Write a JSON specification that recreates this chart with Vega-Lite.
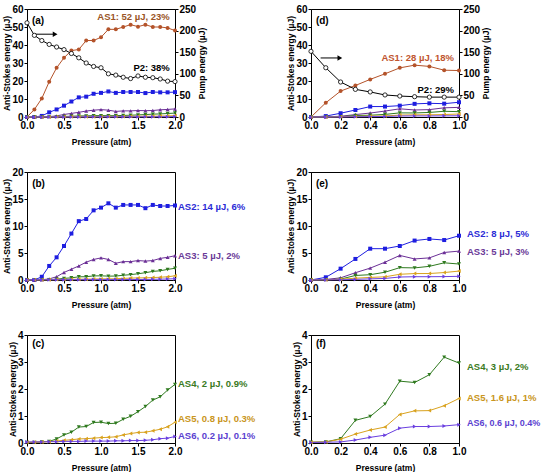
{
"$schema":"https://vega.github.io/schema/vega-lite/v6.json",
"padding":{"left":2,"top":3,"right":0,"bottom":0},
"config":{
"view":{"stroke":"black","strokeWidth":1},
"axis":{"labelFont":"Liberation Sans","labelFontWeight":"bold","labelFontSize":10,"labelColor":"black","titleFont":"Liberation Sans","titleFontWeight":"bold","titleFontSize":8.5,"titleColor":"black","domainColor":"black","tickColor":"black","tickSize":3,"grid":false,"labelPadding":1,"labelFlush":false,"labelOverlap":false,"titlePadding":4},
"axisX":{"titlePadding":7,"labelPadding":0},
"axisLeft":{"titlePadding":0,"labelPadding":1},
"axisRight":{"titlePadding":2,"labelPadding":1,"titleAngle":270,"titleBaseline":"top"},
"text":{"font":"Liberation Sans","fontWeight":"bold","fontSize":9.5}
},
"datasets":{
"L":[
{"s":"AS1","p":0,"e":0},{"s":"AS1","p":0.1,"e":4.2},{"s":"AS1","p":0.2,"e":10.3},{"s":"AS1","p":0.3,"e":19.6},{"s":"AS1","p":0.4,"e":27.3},{"s":"AS1","p":0.5,"e":32.9},{"s":"AS1","p":0.6,"e":36.9},{"s":"AS1","p":0.7,"e":37.5},{"s":"AS1","p":0.8,"e":42.5},{"s":"AS1","p":0.9,"e":42.5},{"s":"AS1","p":1,"e":44.3},{"s":"AS1","p":1.1,"e":48.7},{"s":"AS1","p":1.2,"e":48.7},{"s":"AS1","p":1.3,"e":50},{"s":"AS1","p":1.4,"e":51.3},{"s":"AS1","p":1.5,"e":50.2},{"s":"AS1","p":1.6,"e":51.3},{"s":"AS1","p":1.7,"e":50},{"s":"AS1","p":1.8,"e":50},{"s":"AS1","p":1.9,"e":49.5},{"s":"AS1","p":2,"e":48},
{"s":"AS2","p":0,"e":0},{"s":"AS2","p":0.1,"e":0},{"s":"AS2","p":0.2,"e":0.6},{"s":"AS2","p":0.3,"e":2.6},{"s":"AS2","p":0.4,"e":4.2},{"s":"AS2","p":0.5,"e":6.3},{"s":"AS2","p":0.6,"e":8.6},{"s":"AS2","p":0.7,"e":10.9},{"s":"AS2","p":0.8,"e":11.3},{"s":"AS2","p":0.9,"e":12.9},{"s":"AS2","p":1,"e":13.4},{"s":"AS2","p":1.1,"e":14.2},{"s":"AS2","p":1.2,"e":13.4},{"s":"AS2","p":1.3,"e":13.9},{"s":"AS2","p":1.4,"e":13.9},{"s":"AS2","p":1.5,"e":13.9},{"s":"AS2","p":1.6,"e":13.3},{"s":"AS2","p":1.7,"e":13.9},{"s":"AS2","p":1.8,"e":13.7},{"s":"AS2","p":1.9,"e":13.7},{"s":"AS2","p":2,"e":13.8},
{"s":"AS3","p":0,"e":0},{"s":"AS3","p":0.1,"e":0},{"s":"AS3","p":0.2,"e":0.05},{"s":"AS3","p":0.3,"e":0.2},{"s":"AS3","p":0.4,"e":0.6},{"s":"AS3","p":0.5,"e":1.4},{"s":"AS3","p":0.6,"e":2.0},{"s":"AS3","p":0.7,"e":2.6},{"s":"AS3","p":0.8,"e":3.3},{"s":"AS3","p":0.9,"e":3.8},{"s":"AS3","p":1,"e":4.1},{"s":"AS3","p":1.1,"e":3.8},{"s":"AS3","p":1.2,"e":3.1},{"s":"AS3","p":1.3,"e":3.4},{"s":"AS3","p":1.4,"e":3.4},{"s":"AS3","p":1.5,"e":3.6},{"s":"AS3","p":1.6,"e":3.5},{"s":"AS3","p":1.7,"e":3.6},{"s":"AS3","p":1.8,"e":4.0},{"s":"AS3","p":1.9,"e":4.2},{"s":"AS3","p":2,"e":4.5},
{"s":"AS4","p":0,"e":0.02},{"s":"AS4","p":0.1,"e":0.02},{"s":"AS4","p":0.2,"e":0.04},{"s":"AS4","p":0.3,"e":0.06},{"s":"AS4","p":0.4,"e":0.15},{"s":"AS4","p":0.5,"e":0.3},{"s":"AS4","p":0.6,"e":0.4},{"s":"AS4","p":0.7,"e":0.59},{"s":"AS4","p":0.8,"e":0.61},{"s":"AS4","p":0.9,"e":0.76},{"s":"AS4","p":1,"e":0.77},{"s":"AS4","p":1.1,"e":0.72},{"s":"AS4","p":1.2,"e":0.73},{"s":"AS4","p":1.3,"e":0.88},{"s":"AS4","p":1.4,"e":0.99},{"s":"AS4","p":1.5,"e":1.16},{"s":"AS4","p":1.6,"e":1.35},{"s":"AS4","p":1.7,"e":1.59},{"s":"AS4","p":1.8,"e":1.71},{"s":"AS4","p":1.9,"e":1.96},{"s":"AS4","p":2,"e":2.17},
{"s":"AS5","p":0,"e":0.03},{"s":"AS5","p":0.1,"e":0.03},{"s":"AS5","p":0.2,"e":0.04},{"s":"AS5","p":0.3,"e":0.05},{"s":"AS5","p":0.4,"e":0.07},{"s":"AS5","p":0.5,"e":0.1},{"s":"AS5","p":0.6,"e":0.12},{"s":"AS5","p":0.7,"e":0.15},{"s":"AS5","p":0.8,"e":0.16},{"s":"AS5","p":0.9,"e":0.18},{"s":"AS5","p":1,"e":0.2},{"s":"AS5","p":1.1,"e":0.21},{"s":"AS5","p":1.2,"e":0.23},{"s":"AS5","p":1.3,"e":0.3},{"s":"AS5","p":1.4,"e":0.35},{"s":"AS5","p":1.5,"e":0.39},{"s":"AS5","p":1.6,"e":0.4},{"s":"AS5","p":1.7,"e":0.45},{"s":"AS5","p":1.8,"e":0.51},{"s":"AS5","p":1.9,"e":0.6},{"s":"AS5","p":2,"e":0.77},
{"s":"AS6","p":0,"e":0.04},{"s":"AS6","p":0.1,"e":0.04},{"s":"AS6","p":0.2,"e":0.04},{"s":"AS6","p":0.3,"e":0.05},{"s":"AS6","p":0.4,"e":0.05},{"s":"AS6","p":0.5,"e":0.06},{"s":"AS6","p":0.6,"e":0.06},{"s":"AS6","p":0.7,"e":0.06},{"s":"AS6","p":0.8,"e":0.07},{"s":"AS6","p":0.9,"e":0.07},{"s":"AS6","p":1,"e":0.07},{"s":"AS6","p":1.1,"e":0.07},{"s":"AS6","p":1.2,"e":0.08},{"s":"AS6","p":1.3,"e":0.08},{"s":"AS6","p":1.4,"e":0.09},{"s":"AS6","p":1.5,"e":0.09},{"s":"AS6","p":1.6,"e":0.1},{"s":"AS6","p":1.7,"e":0.12},{"s":"AS6","p":1.8,"e":0.16},{"s":"AS6","p":1.9,"e":0.18},{"s":"AS6","p":2,"e":0.24},
{"s":"P2","p":0,"e":218},{"s":"P2","p":0.1,"e":189},{"s":"P2","p":0.2,"e":177},{"s":"P2","p":0.3,"e":168},{"s":"P2","p":0.4,"e":162},{"s":"P2","p":0.5,"e":156},{"s":"P2","p":0.6,"e":147},{"s":"P2","p":0.7,"e":137},{"s":"P2","p":0.8,"e":125},{"s":"P2","p":0.9,"e":117},{"s":"P2","p":1,"e":114},{"s":"P2","p":1.1,"e":100},{"s":"P2","p":1.2,"e":97},{"s":"P2","p":1.3,"e":92},{"s":"P2","p":1.4,"e":89},{"s":"P2","p":1.5,"e":95},{"s":"P2","p":1.6,"e":92},{"s":"P2","p":1.7,"e":91},{"s":"P2","p":1.8,"e":88},{"s":"P2","p":1.9,"e":83},{"s":"P2","p":2,"e":82}
],
"R":[
{"s":"AS1","p":0,"e":0},{"s":"AS1","p":0.1,"e":7.9},{"s":"AS1","p":0.2,"e":14.4},{"s":"AS1","p":0.3,"e":17.5},{"s":"AS1","p":0.4,"e":20.9},{"s":"AS1","p":0.5,"e":24},{"s":"AS1","p":0.6,"e":27.3},{"s":"AS1","p":0.7,"e":28.8},{"s":"AS1","p":0.8,"e":28.1},{"s":"AS1","p":0.9,"e":26},{"s":"AS1","p":1,"e":25.8},
{"s":"AS2","p":0,"e":0},{"s":"AS2","p":0.1,"e":0.5},{"s":"AS2","p":0.2,"e":2.1},{"s":"AS2","p":0.3,"e":3.9},{"s":"AS2","p":0.4,"e":5.8},{"s":"AS2","p":0.5,"e":5.8},{"s":"AS2","p":0.6,"e":6.3},{"s":"AS2","p":0.7,"e":7.3},{"s":"AS2","p":0.8,"e":7.6},{"s":"AS2","p":0.9,"e":7.4},{"s":"AS2","p":1,"e":8.2},
{"s":"AS3","p":0,"e":0},{"s":"AS3","p":0.1,"e":0.1},{"s":"AS3","p":0.2,"e":0.4},{"s":"AS3","p":0.3,"e":1.35},{"s":"AS3","p":0.4,"e":2.2},{"s":"AS3","p":0.5,"e":3.3},{"s":"AS3","p":0.6,"e":4.55},{"s":"AS3","p":0.7,"e":3.9},{"s":"AS3","p":0.8,"e":4.1},{"s":"AS3","p":0.9,"e":5.1},{"s":"AS3","p":1,"e":5.35},
{"s":"AS4","p":0,"e":0.03},{"s":"AS4","p":0.1,"e":0.04},{"s":"AS4","p":0.2,"e":0.16},{"s":"AS4","p":0.3,"e":0.84},{"s":"AS4","p":0.4,"e":0.98},{"s":"AS4","p":0.5,"e":1.44},{"s":"AS4","p":0.6,"e":2.29},{"s":"AS4","p":0.7,"e":2.24},{"s":"AS4","p":0.8,"e":2.53},{"s":"AS4","p":0.9,"e":3.18},{"s":"AS4","p":1,"e":2.96},
{"s":"AS5","p":0,"e":0.03},{"s":"AS5","p":0.1,"e":0.04},{"s":"AS5","p":0.2,"e":0.14},{"s":"AS5","p":0.3,"e":0.33},{"s":"AS5","p":0.4,"e":0.48},{"s":"AS5","p":0.5,"e":0.59},{"s":"AS5","p":0.6,"e":1.06},{"s":"AS5","p":0.7,"e":1.19},{"s":"AS5","p":0.8,"e":1.2},{"s":"AS5","p":0.9,"e":1.38},{"s":"AS5","p":1,"e":1.65},
{"s":"AS6","p":0,"e":0.02},{"s":"AS6","p":0.1,"e":0.03},{"s":"AS6","p":0.2,"e":0.04},{"s":"AS6","p":0.3,"e":0.11},{"s":"AS6","p":0.4,"e":0.21},{"s":"AS6","p":0.5,"e":0.29},{"s":"AS6","p":0.6,"e":0.55},{"s":"AS6","p":0.7,"e":0.61},{"s":"AS6","p":0.8,"e":0.61},{"s":"AS6","p":0.9,"e":0.63},{"s":"AS6","p":1,"e":0.68},
{"s":"P2","p":0,"e":152},{"s":"P2","p":0.1,"e":114},{"s":"P2","p":0.2,"e":81},{"s":"P2","p":0.3,"e":64},{"s":"P2","p":0.4,"e":58},{"s":"P2","p":0.5,"e":51},{"s":"P2","p":0.6,"e":48.5},{"s":"P2","p":0.7,"e":47},{"s":"P2","p":0.8,"e":46},{"s":"P2","p":0.9,"e":46},{"s":"P2","p":1,"e":46}
]
},
"columns":2,
"spacing":{"row":55,"column":136},
"bounds":"flush",
"concat":[
{
"width":148,"height":108,
"layer":[
{"layer":[
{"data":{"name":"L"},
"transform":[{"filter":{"field":"s","oneOf":["AS1","AS2","AS3","AS4","AS5","AS6"]}}],
"encoding":{
"x":{"field":"p","type":"quantitative","scale":{"domain":[0,2]},"axis":{"values":[0,0.5,1,1.5,2],"format":".1f","title":"Pressure (atm)"}},
"y":{"field":"e","type":"quantitative","scale":{"domain":[0,60]},"axis":{"values":[0,10,20,30,40,50,60],"title":"Anti-Stokes energy (µJ)"}},
"color":{"field":"s","type":"nominal","scale":{"domain":["AS1","AS2","AS3","AS4","AS5","AS6"],"range":["#b4532a","#1e1ee0","#6b2f96","#2f7a1f","#d9a21e","#6a3fe0"]},"legend":null}},
"layer":[
{"mark":{"type":"line","strokeWidth":1}},
{"mark":{"type":"point","filled":true,"size":16,"opacity":1},"encoding":{"shape":{"field":"s","type":"nominal","scale":{"domain":["AS1","AS2","AS3","AS4","AS5","AS6"],"range":["circle","square","triangle-up","triangle-down","triangle-left","triangle-right"]},"legend":null}}}
]},
{"data":{"values":[{}]},"mark":{"type":"rule","color":"black","strokeWidth":1},"encoding":{"x":{"datum":0.1,"axis":{"values":[0,0.5,1,1.5,2],"format":".1f","title":"Pressure (atm)"}},"x2":{"datum":0.37},"y":{"datum":46,"axis":{"values":[0,10,20,30,40,50,60],"title":"Anti-Stokes energy (µJ)"}}}},
{"data":{"values":[{}]},"mark":{"type":"point","shape":"triangle-right","filled":true,"color":"black","size":30,"opacity":1},"encoding":{"x":{"datum":0.38,"axis":{"values":[0,0.5,1,1.5,2],"format":".1f","title":"Pressure (atm)"}},"y":{"datum":46,"axis":{"values":[0,10,20,30,40,50,60],"title":"Anti-Stokes energy (µJ)"}}}},
{"data":{"values":[{}]},"mark":{"type":"text","text":"(a)","align":"left","fontSize":10},"encoding":{"x":{"datum":0.067,"axis":{"values":[0,0.5,1,1.5,2],"format":".1f","title":"Pressure (atm)"}},"y":{"datum":53.3,"axis":{"values":[0,10,20,30,40,50,60],"title":"Anti-Stokes energy (µJ)"}}}},
{"data":{"values":[{}]},"mark":{"type":"text","text":"AS1: 52 µJ, 23%","align":"right","color":"#9a5526"},"encoding":{"x":{"datum":1.93,"axis":{"values":[0,0.5,1,1.5,2],"format":".1f","title":"Pressure (atm)"}},"y":{"datum":55.5,"axis":{"values":[0,10,20,30,40,50,60],"title":"Anti-Stokes energy (µJ)"}}}},
{"data":{"values":[{}]},"mark":{"type":"text","text":"P2: 38%","align":"right","color":"black"},"encoding":{"x":{"datum":1.93,"axis":{"values":[0,0.5,1,1.5,2],"format":".1f","title":"Pressure (atm)"}},"y":{"datum":27.4,"axis":{"values":[0,10,20,30,40,50,60],"title":"Anti-Stokes energy (µJ)"}}}}
]},
{"data":{"name":"L"},"transform":[{"filter":{"field":"s","equal":"P2"}}],
"encoding":{
"x":{"field":"p","type":"quantitative","scale":{"domain":[0,2]},"axis":{"values":[0,0.5,1,1.5,2],"format":".1f","title":"Pressure (atm)"}},
"y":{"field":"e","type":"quantitative","scale":{"domain":[0,250]},"axis":{"orient":"right","values":[0,50,100,150,200,250],"title":"Pump energy (µJ)"}}},
"layer":[
{"mark":{"type":"line","color":"black","strokeWidth":1}},
{"mark":{"type":"point","shape":"circle","filled":true,"fill":"white","stroke":"black","strokeWidth":0.8,"size":18,"opacity":1}}
]}
],
"resolve":{"scale":{"y":"independent"}}
},
{
"width":148,"height":108,
"layer":[
{"layer":[
{"data":{"name":"R"},
"transform":[{"filter":{"field":"s","oneOf":["AS1","AS2","AS3","AS4","AS5","AS6"]}}],
"encoding":{
"x":{"field":"p","type":"quantitative","scale":{"domain":[0,1]},"axis":{"values":[0,0.2,0.4,0.6,0.8,1],"format":".1f","title":"Pressure (atm)"}},
"y":{"field":"e","type":"quantitative","scale":{"domain":[0,60]},"axis":{"values":[0,10,20,30,40,50,60],"title":"Anti-Stokes energy (µJ)"}},
"color":{"field":"s","type":"nominal","scale":{"domain":["AS1","AS2","AS3","AS4","AS5","AS6"],"range":["#b4532a","#1e1ee0","#6b2f96","#2f7a1f","#d9a21e","#6a3fe0"]},"legend":null}},
"layer":[
{"mark":{"type":"line","strokeWidth":1}},
{"mark":{"type":"point","filled":true,"size":16,"opacity":1},"encoding":{"shape":{"field":"s","type":"nominal","scale":{"domain":["AS1","AS2","AS3","AS4","AS5","AS6"],"range":["circle","square","triangle-up","triangle-down","triangle-left","triangle-right"]},"legend":null}}}
]},
{"data":{"values":[{}]},"mark":{"type":"rule","color":"black","strokeWidth":1},"encoding":{"x":{"datum":0.065,"axis":{"values":[0,0.2,0.4,0.6,0.8,1],"format":".1f","title":"Pressure (atm)"}},"x2":{"datum":0.19},"y":{"datum":32.8,"axis":{"values":[0,10,20,30,40,50,60],"title":"Anti-Stokes energy (µJ)"}}}},
{"data":{"values":[{}]},"mark":{"type":"point","shape":"triangle-right","filled":true,"color":"black","size":30,"opacity":1},"encoding":{"x":{"datum":0.195,"axis":{"values":[0,0.2,0.4,0.6,0.8,1],"format":".1f","title":"Pressure (atm)"}},"y":{"datum":32.8,"axis":{"values":[0,10,20,30,40,50,60],"title":"Anti-Stokes energy (µJ)"}}}},
{"data":{"values":[{}]},"mark":{"type":"text","text":"(d)","align":"left","fontSize":10},"encoding":{"x":{"datum":0.033,"axis":{"values":[0,0.2,0.4,0.6,0.8,1],"format":".1f","title":"Pressure (atm)"}},"y":{"datum":53.3,"axis":{"values":[0,10,20,30,40,50,60],"title":"Anti-Stokes energy (µJ)"}}}},
{"data":{"values":[{}]},"mark":{"type":"text","text":"AS1: 28 µJ, 18%","align":"right","color":"#c0552e"},"encoding":{"x":{"datum":0.966,"axis":{"values":[0,0.2,0.4,0.6,0.8,1],"format":".1f","title":"Pressure (atm)"}},"y":{"datum":32.9,"axis":{"values":[0,10,20,30,40,50,60],"title":"Anti-Stokes energy (µJ)"}}}},
{"data":{"values":[{}]},"mark":{"type":"text","text":"P2: 29%","align":"right","color":"black"},"encoding":{"x":{"datum":0.966,"axis":{"values":[0,0.2,0.4,0.6,0.8,1],"format":".1f","title":"Pressure (atm)"}},"y":{"datum":14.8,"axis":{"values":[0,10,20,30,40,50,60],"title":"Anti-Stokes energy (µJ)"}}}}
]},
{"data":{"name":"R"},"transform":[{"filter":{"field":"s","equal":"P2"}}],
"encoding":{
"x":{"field":"p","type":"quantitative","scale":{"domain":[0,1]},"axis":{"values":[0,0.2,0.4,0.6,0.8,1],"format":".1f","title":"Pressure (atm)"}},
"y":{"field":"e","type":"quantitative","scale":{"domain":[0,250]},"axis":{"orient":"right","values":[0,50,100,150,200,250],"title":"Pump energy (µJ)"}}},
"layer":[
{"mark":{"type":"line","color":"black","strokeWidth":1}},
{"mark":{"type":"point","shape":"circle","filled":true,"fill":"white","stroke":"black","strokeWidth":0.8,"size":18,"opacity":1}}
]}
],
"resolve":{"scale":{"y":"independent"}}
},
{
"width":148,"height":108,
"layer":[
{"data":{"name":"L"},
"transform":[{"filter":{"field":"s","oneOf":["AS2","AS3","AS4","AS5","AS6"]}}],
"encoding":{
"x":{"field":"p","type":"quantitative","scale":{"domain":[0,2]},"axis":{"values":[0,0.5,1,1.5,2],"format":".1f","title":"Pressure (atm)"}},
"y":{"field":"e","type":"quantitative","scale":{"domain":[0,20]},"axis":{"values":[0,5,10,15,20],"title":"Anti-Stokes energy (µJ)"}},
"color":{"field":"s","type":"nominal","scale":{"domain":["AS1","AS2","AS3","AS4","AS5","AS6"],"range":["#b4532a","#1e1ee0","#6b2f96","#2f7a1f","#d9a21e","#6a3fe0"]},"legend":null}},
"layer":[
{"mark":{"type":"line","strokeWidth":1}},
{"mark":{"type":"point","filled":true,"size":16,"opacity":1},"encoding":{"shape":{"field":"s","type":"nominal","scale":{"domain":["AS1","AS2","AS3","AS4","AS5","AS6"],"range":["circle","square","triangle-up","triangle-down","triangle-left","triangle-right"]},"legend":null}}}
]},
{"data":{"values":[{}]},"mark":{"type":"text","text":"(b)","align":"left","fontSize":10},"encoding":{"x":{"datum":0.07,"axis":{"values":[0,0.5,1,1.5,2],"format":".1f","title":"Pressure (atm)"}},"y":{"datum":17.8,"axis":{"values":[0,5,10,15,20],"title":"Anti-Stokes energy (µJ)"}}}},
{"data":{"values":[{}]},"mark":{"type":"text","text":"AS2: 14 µJ, 6%","align":"left","dx":3,"color":"#2b2bd6"},"encoding":{"x":{"datum":2,"axis":{"values":[0,0.5,1,1.5,2],"format":".1f","title":"Pressure (atm)"}},"y":{"datum":13.6,"axis":{"values":[0,5,10,15,20],"title":"Anti-Stokes energy (µJ)"}}}},
{"data":{"values":[{}]},"mark":{"type":"text","text":"AS3: 5 µJ, 2%","align":"left","dx":3,"color":"#6a3a98"},"encoding":{"x":{"datum":2,"axis":{"values":[0,0.5,1,1.5,2],"format":".1f","title":"Pressure (atm)"}},"y":{"datum":4.4,"axis":{"values":[0,5,10,15,20],"title":"Anti-Stokes energy (µJ)"}}}}
]
},
{
"width":148,"height":108,
"layer":[
{"data":{"name":"R"},
"transform":[{"filter":{"field":"s","oneOf":["AS2","AS3","AS4","AS5","AS6"]}}],
"encoding":{
"x":{"field":"p","type":"quantitative","scale":{"domain":[0,1]},"axis":{"values":[0,0.2,0.4,0.6,0.8,1],"format":".1f","title":"Pressure (atm)"}},
"y":{"field":"e","type":"quantitative","scale":{"domain":[0,20]},"axis":{"values":[0,5,10,15,20],"title":"Anti-Stokes energy (µJ)"}},
"color":{"field":"s","type":"nominal","scale":{"domain":["AS1","AS2","AS3","AS4","AS5","AS6"],"range":["#b4532a","#1e1ee0","#6b2f96","#2f7a1f","#d9a21e","#6a3fe0"]},"legend":null}},
"layer":[
{"mark":{"type":"line","strokeWidth":1}},
{"mark":{"type":"point","filled":true,"size":16,"opacity":1},"encoding":{"shape":{"field":"s","type":"nominal","scale":{"domain":["AS1","AS2","AS3","AS4","AS5","AS6"],"range":["circle","square","triangle-up","triangle-down","triangle-left","triangle-right"]},"legend":null}}}
]},
{"data":{"values":[{}]},"mark":{"type":"text","text":"(e)","align":"left","fontSize":10},"encoding":{"x":{"datum":0.033,"axis":{"values":[0,0.2,0.4,0.6,0.8,1],"format":".1f","title":"Pressure (atm)"}},"y":{"datum":17.8,"axis":{"values":[0,5,10,15,20],"title":"Anti-Stokes energy (µJ)"}}}},
{"data":{"values":[{}]},"mark":{"type":"text","text":"AS2: 8 µJ, 5%","align":"left","dx":8,"color":"#2b2bd6"},"encoding":{"x":{"datum":1,"axis":{"values":[0,0.2,0.4,0.6,0.8,1],"format":".1f","title":"Pressure (atm)"}},"y":{"datum":8.6,"axis":{"values":[0,5,10,15,20],"title":"Anti-Stokes energy (µJ)"}}}},
{"data":{"values":[{}]},"mark":{"type":"text","text":"AS3: 5 µJ, 3%","align":"left","dx":8,"color":"#6a3a98"},"encoding":{"x":{"datum":1,"axis":{"values":[0,0.2,0.4,0.6,0.8,1],"format":".1f","title":"Pressure (atm)"}},"y":{"datum":5.1,"axis":{"values":[0,5,10,15,20],"title":"Anti-Stokes energy (µJ)"}}}}
]
},
{
"width":148,"height":108,
"layer":[
{"data":{"name":"L"},
"transform":[{"filter":{"field":"s","oneOf":["AS4","AS5","AS6"]}}],
"encoding":{
"x":{"field":"p","type":"quantitative","scale":{"domain":[0,2]},"axis":{"values":[0,0.5,1,1.5,2],"format":".1f","title":"Pressure (atm)"}},
"y":{"field":"e","type":"quantitative","scale":{"domain":[0,4]},"axis":{"values":[0,1,2,3,4],"title":"Anti-Stokes energy (µJ)"}},
"color":{"field":"s","type":"nominal","scale":{"domain":["AS1","AS2","AS3","AS4","AS5","AS6"],"range":["#b4532a","#1e1ee0","#6b2f96","#2f7a1f","#d9a21e","#6a3fe0"]},"legend":null}},
"layer":[
{"mark":{"type":"line","strokeWidth":1}},
{"mark":{"type":"point","filled":true,"size":16,"opacity":1},"encoding":{"shape":{"field":"s","type":"nominal","scale":{"domain":["AS1","AS2","AS3","AS4","AS5","AS6"],"range":["circle","square","triangle-up","triangle-down","triangle-left","triangle-right"]},"legend":null}}}
]},
{"data":{"values":[{}]},"mark":{"type":"text","text":"(c)","align":"left","fontSize":10},"encoding":{"x":{"datum":0.07,"axis":{"values":[0,0.5,1,1.5,2],"format":".1f","title":"Pressure (atm)"}},"y":{"datum":3.67,"axis":{"values":[0,1,2,3,4],"title":"Anti-Stokes energy (µJ)"}}}},
{"data":{"values":[{}]},"mark":{"type":"text","text":"AS4, 2 µJ, 0.9%","align":"left","dx":3,"color":"#3a7a22"},"encoding":{"x":{"datum":2,"axis":{"values":[0,0.5,1,1.5,2],"format":".1f","title":"Pressure (atm)"}},"y":{"datum":2.17,"axis":{"values":[0,1,2,3,4],"title":"Anti-Stokes energy (µJ)"}}}},
{"data":{"values":[{}]},"mark":{"type":"text","text":"AS5, 0.8 µJ, 0.3%","align":"left","dx":3,"color":"#c99520"},"encoding":{"x":{"datum":2,"axis":{"values":[0,0.5,1,1.5,2],"format":".1f","title":"Pressure (atm)"}},"y":{"datum":0.88,"axis":{"values":[0,1,2,3,4],"title":"Anti-Stokes energy (µJ)"}}}},
{"data":{"values":[{}]},"mark":{"type":"text","text":"AS6, 0.2 µJ, 0.1%","align":"left","dx":3,"color":"#5b3fd0"},"encoding":{"x":{"datum":2,"axis":{"values":[0,0.5,1,1.5,2],"format":".1f","title":"Pressure (atm)"}},"y":{"datum":0.25,"axis":{"values":[0,1,2,3,4],"title":"Anti-Stokes energy (µJ)"}}}}
]
},
{
"width":148,"height":108,
"layer":[
{"data":{"name":"R"},
"transform":[{"filter":{"field":"s","oneOf":["AS4","AS5","AS6"]}}],
"encoding":{
"x":{"field":"p","type":"quantitative","scale":{"domain":[0,1]},"axis":{"values":[0,0.2,0.4,0.6,0.8,1],"format":".1f","title":"Pressure (atm)"}},
"y":{"field":"e","type":"quantitative","scale":{"domain":[0,4]},"axis":{"values":[0,1,2,3,4],"title":"Anti-Stokes energy (µJ)"}},
"color":{"field":"s","type":"nominal","scale":{"domain":["AS1","AS2","AS3","AS4","AS5","AS6"],"range":["#b4532a","#1e1ee0","#6b2f96","#2f7a1f","#d9a21e","#6a3fe0"]},"legend":null}},
"layer":[
{"mark":{"type":"line","strokeWidth":1}},
{"mark":{"type":"point","filled":true,"size":16,"opacity":1},"encoding":{"shape":{"field":"s","type":"nominal","scale":{"domain":["AS1","AS2","AS3","AS4","AS5","AS6"],"range":["circle","square","triangle-up","triangle-down","triangle-left","triangle-right"]},"legend":null}}}
]},
{"data":{"values":[{}]},"mark":{"type":"text","text":"(f)","align":"left","fontSize":10},"encoding":{"x":{"datum":0.033,"axis":{"values":[0,0.2,0.4,0.6,0.8,1],"format":".1f","title":"Pressure (atm)"}},"y":{"datum":3.67,"axis":{"values":[0,1,2,3,4],"title":"Anti-Stokes energy (µJ)"}}}},
{"data":{"values":[{}]},"mark":{"type":"text","text":"AS4, 3 µJ, 2%","align":"left","dx":8,"color":"#3a7a22"},"encoding":{"x":{"datum":1,"axis":{"values":[0,0.2,0.4,0.6,0.8,1],"format":".1f","title":"Pressure (atm)"}},"y":{"datum":2.81,"axis":{"values":[0,1,2,3,4],"title":"Anti-Stokes energy (µJ)"}}}},
{"data":{"values":[{}]},"mark":{"type":"text","text":"AS5, 1.6 µJ, 1%","align":"left","dx":8,"color":"#c99520"},"encoding":{"x":{"datum":1,"axis":{"values":[0,0.2,0.4,0.6,0.8,1],"format":".1f","title":"Pressure (atm)"}},"y":{"datum":1.65,"axis":{"values":[0,1,2,3,4],"title":"Anti-Stokes energy (µJ)"}}}},
{"data":{"values":[{}]},"mark":{"type":"text","text":"AS6, 0.6 µJ, 0.4%","align":"left","dx":8,"fontSize":9,"color":"#5b3fd0"},"encoding":{"x":{"datum":1,"axis":{"values":[0,0.2,0.4,0.6,0.8,1],"format":".1f","title":"Pressure (atm)"}},"y":{"datum":0.73,"axis":{"values":[0,1,2,3,4],"title":"Anti-Stokes energy (µJ)"}}}}
]
}
]
}
